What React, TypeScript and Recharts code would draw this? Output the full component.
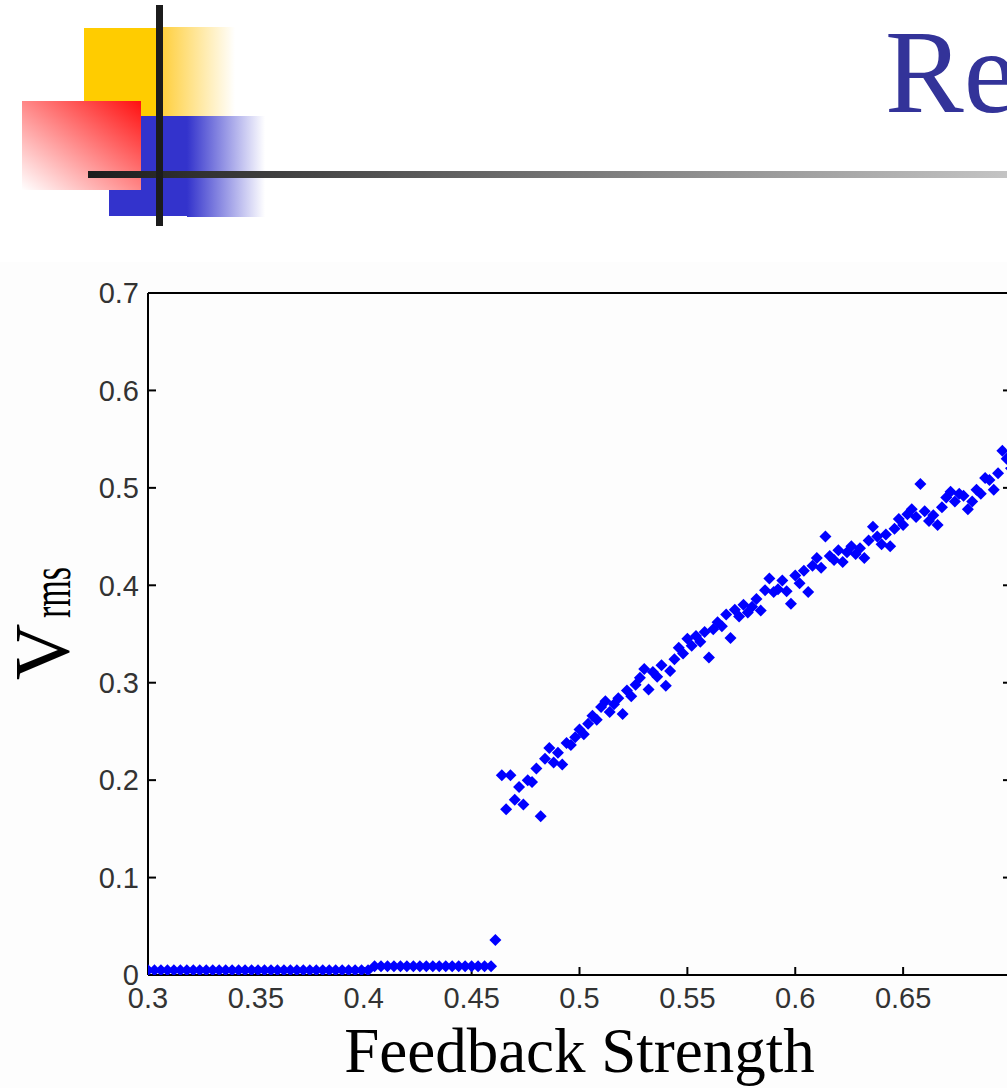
import React from 'react';
import { ScatterChart, Scatter, XAxis, YAxis } from 'recharts';

// lower branch (no oscillation)
const lowerX = [
  0.300, 0.303, 0.306, 0.309, 0.312, 0.315, 0.318, 0.321, 0.324, 0.327,
  0.330, 0.333, 0.336, 0.339, 0.342, 0.345, 0.348, 0.351, 0.354, 0.357,
  0.360, 0.363, 0.366, 0.369, 0.372, 0.375, 0.378, 0.381, 0.384, 0.387,
  0.390, 0.393, 0.396, 0.399, 0.402,
  0.405, 0.408, 0.411, 0.414, 0.417, 0.420, 0.423, 0.426, 0.429, 0.432,
  0.435, 0.438, 0.441, 0.444, 0.447, 0.450, 0.453, 0.456, 0.459,
];
const lowerY = [
  0.005, 0.005, 0.005, 0.005, 0.005, 0.005, 0.005, 0.005, 0.005, 0.005,
  0.005, 0.005, 0.005, 0.005, 0.005, 0.005, 0.005, 0.005, 0.005, 0.005,
  0.005, 0.005, 0.005, 0.005, 0.005, 0.005, 0.005, 0.005, 0.005, 0.005,
  0.005, 0.005, 0.005, 0.005, 0.005,
  0.009, 0.009, 0.009, 0.009, 0.009, 0.009, 0.009, 0.009, 0.009, 0.009,
  0.009, 0.009, 0.009, 0.009, 0.009, 0.009, 0.009, 0.009, 0.009,
];

// transition point
const jumpPoint: [number, number] = [0.461, 0.036];

// upper branch [feedback, Vrms]
const upperPoints: [number, number][] = [
  [0.464, 0.205], [0.466, 0.170], [0.468, 0.205], [0.470, 0.180], [0.472, 0.193],
  [0.474, 0.175], [0.476, 0.200], [0.478, 0.198], [0.480, 0.212], [0.482, 0.163],
  [0.484, 0.222], [0.486, 0.233], [0.488, 0.218], [0.490, 0.228], [0.492, 0.216],
  [0.494, 0.238], [0.496, 0.236], [0.498, 0.244], [0.500, 0.252], [0.502, 0.247],
  [0.504, 0.258], [0.506, 0.266], [0.508, 0.262], [0.510, 0.275], [0.512, 0.281],
  [0.514, 0.270], [0.516, 0.278], [0.518, 0.284], [0.520, 0.268], [0.522, 0.292],
  [0.524, 0.286], [0.526, 0.298], [0.528, 0.305], [0.530, 0.314], [0.532, 0.293],
  [0.534, 0.311], [0.536, 0.306], [0.538, 0.318], [0.540, 0.297], [0.542, 0.312],
  [0.544, 0.324], [0.546, 0.336], [0.548, 0.330], [0.550, 0.345], [0.552, 0.338],
  [0.554, 0.348], [0.556, 0.342], [0.558, 0.352], [0.560, 0.326], [0.562, 0.355],
  [0.564, 0.362], [0.566, 0.358], [0.568, 0.370], [0.570, 0.346], [0.572, 0.375],
  [0.574, 0.368], [0.576, 0.380], [0.578, 0.372], [0.580, 0.378], [0.582, 0.386],
  [0.584, 0.374], [0.586, 0.395], [0.588, 0.407], [0.590, 0.393], [0.592, 0.396],
  [0.594, 0.405], [0.596, 0.394], [0.598, 0.381], [0.600, 0.410], [0.602, 0.402],
  [0.604, 0.415], [0.606, 0.393], [0.608, 0.420], [0.610, 0.428], [0.612, 0.418],
  [0.614, 0.450], [0.616, 0.430], [0.618, 0.426], [0.620, 0.436], [0.622, 0.424],
  [0.624, 0.434], [0.626, 0.440], [0.628, 0.432], [0.630, 0.438], [0.632, 0.428],
  [0.634, 0.446], [0.636, 0.460], [0.638, 0.450], [0.640, 0.442], [0.642, 0.452],
  [0.644, 0.440], [0.646, 0.458], [0.648, 0.468], [0.650, 0.462], [0.652, 0.473],
  [0.654, 0.478], [0.656, 0.470], [0.658, 0.504], [0.660, 0.476], [0.662, 0.466],
  [0.664, 0.472], [0.666, 0.462], [0.668, 0.480], [0.670, 0.490], [0.672, 0.496],
  [0.674, 0.486], [0.676, 0.494], [0.678, 0.492], [0.680, 0.478], [0.682, 0.486],
  [0.684, 0.498], [0.686, 0.494], [0.688, 0.510], [0.690, 0.508], [0.692, 0.498],
  [0.694, 0.515], [0.696, 0.538], [0.698, 0.530], [0.700, 0.520],
];

const xTicks = [0.3, 0.35, 0.4, 0.45, 0.5, 0.55, 0.6, 0.65];
const yTicks = [0, 0.1, 0.2, 0.3, 0.4, 0.5, 0.6, 0.7];

const points = [
  ...lowerX.map((x, i) => ({ x, y: lowerY[i] })),
  { x: jumpPoint[0], y: jumpPoint[1] },
  ...upperPoints.map(([x, y]) => ({ x, y })),
];

const Diamond = (props: any) => {
  const { cx, cy } = props;
  const r = 6;
  return (
    <path
      d={`M${cx},${cy - r}L${cx + r},${cy}L${cx},${cy + r}L${cx - r},${cy}Z`}
      fill="#0000ff"
    />
  );
};

const tickFont = { fill: '#333', fontSize: 29, fontFamily: '"Liberation Sans", Arial, sans-serif' };
const axisStroke = { stroke: '#000', strokeWidth: 2 };

const XLabel = ({ viewBox }: any) => (
  <text
    x={viewBox.x + viewBox.width / 2}
    y={viewBox.y + 97}
    textAnchor="middle"
    fontFamily='"Liberation Serif", "Times New Roman", serif'
    fontSize={63}
    fill="#000"
  >
    Feedback Strength
  </text>
);

const YLabel = ({ viewBox }: any) => {
  const cy = viewBox.y + viewBox.height / 2;
  const bx = viewBox.x - 20;
  return (
    <g fontFamily='"Liberation Serif", "Times New Roman", serif' fill="#000">
      <text transform={`translate(${bx},${cy + 46}) rotate(-90)`} fontSize={78}>V</text>
      <text transform={`translate(${bx + 2},${cy - 16}) rotate(-90) scale(1,1.7)`} fontSize={34}>rms</text>
    </g>
  );
};

const Header = () => (
  <svg width={1007} height={240} style={{ position: 'absolute', left: 0, top: 0 }}>
    <defs>
      <linearGradient id="gy" x1="0" y1="0" x2="1" y2="0">
        <stop offset="0" stopColor="#ffd040" />
        <stop offset="1" stopColor="#ffffff" />
      </linearGradient>
      <linearGradient id="gb" x1="0" y1="0" x2="1" y2="0">
        <stop offset="0" stopColor="#3333cc" />
        <stop offset="1" stopColor="#ffffff" />
      </linearGradient>
      <linearGradient id="gr" x1="0" y1="1" x2="1" y2="0">
        <stop offset="0" stopColor="#ffffff" />
        <stop offset="1" stopColor="#ff1010" />
      </linearGradient>
      <linearGradient id="gl" x1="0" y1="0" x2="1" y2="0">
        <stop offset="0" stopColor="#1c1c1c" />
        <stop offset="0.23" stopColor="#444444" />
        <stop offset="0.67" stopColor="#8f8f8f" />
        <stop offset="1" stopColor="#c4c4c4" />
      </linearGradient>
    </defs>
    <rect x={84} y={28} width={79} height={88} fill="#ffcc00" />
    <rect x={163} y={27} width={72} height={89} fill="url(#gy)" />
    <rect x={109} y={116} width={78} height={100} fill="#3333cc" />
    <rect x={187} y={116} width={78} height={101} fill="url(#gb)" />
    <rect x={22} y={101} width={119} height={89} fill="url(#gr)" />
    <rect x={88} y={171} width={919} height={7} fill="url(#gl)" />
    <rect x={156} y={5} width={7} height={221} fill="#1c1c1c" />
    <text x={885} y={112} fontSize={118} fill="#333399" fontFamily='"Liberation Serif", "Times New Roman", serif'>
      Results
    </text>
  </svg>
);

export default function App() {
  return (
    <div style={{ position: 'absolute', left: 0, top: 0, width: 1007, height: 1088, overflow: 'hidden', background: '#fff' }}>
      <div style={{ position: 'absolute', left: 0, top: 262, width: 1007, height: 826, background: '#fdfdfd' }} />
      <Header />
      <div style={{ position: 'absolute', left: 0, top: 240 }}>
        <ScatterChart width={1040} height={848} margin={{ top: 52, right: 28, bottom: 73, left: 88 }}>
          <XAxis
            xAxisId="b"
            type="number"
            dataKey="x"
            domain={[0.3, 0.7]}
            ticks={xTicks}
            interval={0}
            orientation="bottom"
            height={40}
            axisLine={axisStroke}
            tickLine={axisStroke}
            tickSize={-8}
            tickMargin={20}
            tick={tickFont}
            tickFormatter={(v: number) => String(v)}
            allowDataOverflow
            label={{ content: XLabel }}
          />
          <XAxis
            xAxisId="t"
            type="number"
            domain={[0.3, 0.7]}
            ticks={xTicks}
            interval={0}
            orientation="top"
            height={1}
            axisLine={axisStroke}
            tickLine={axisStroke}
            tickSize={-8}
            tickFormatter={() => ''}
            allowDataOverflow
          />
          <YAxis
            yAxisId="l"
            type="number"
            dataKey="y"
            domain={[0, 0.7]}
            ticks={yTicks}
            interval={0}
            width={60}
            axisLine={axisStroke}
            tickLine={axisStroke}
            tickSize={-8}
            tickMargin={17}
            tick={tickFont}
            tickFormatter={(v: number) => String(v)}
            allowDataOverflow
            label={{ content: YLabel }}
          />
          <YAxis
            yAxisId="r"
            type="number"
            orientation="right"
            domain={[0, 0.7]}
            ticks={yTicks}
            interval={0}
            width={1}
            axisLine={axisStroke}
            tickLine={axisStroke}
            tickSize={-8}
            tickFormatter={() => ''}
            allowDataOverflow
          />
          <Scatter
            xAxisId="b"
            yAxisId="l"
            data={points}
            shape={Diamond}
            isAnimationActive={false}
          />
        </ScatterChart>
      </div>
    </div>
  );
}
